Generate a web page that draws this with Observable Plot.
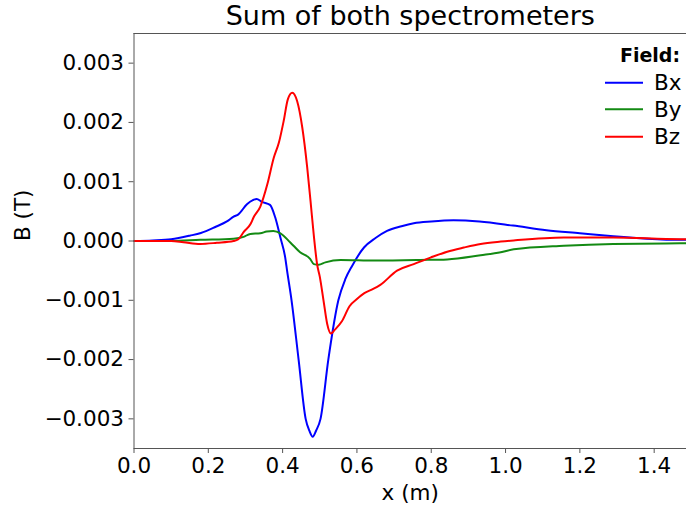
<!DOCTYPE html>
<html>
<head>
<meta charset="utf-8">
<script src="https://cdn.jsdelivr.net/npm/d3@7"></script>
<script src="https://cdn.jsdelivr.net/npm/@observablehq/plot@0.6"></script>
<style>
  html, body { margin: 0; padding: 0; background: white; }
  #chart { width: 686px; height: 508px; }
</style>
</head>
<body>
<div id="chart"></div>
<script>
// ---- data ----
const titleText = "Sum of both spectrometers";
const xLabel = "x (m)";
const yLabel = "B (T)";
const legendTitle = "Field:";
const seriesNames = ["Bx", "By", "Bz"];
const seriesColors = ["#0000ff", "#138a13", "#ff0000"];

const bxX = [0, 0.05, 0.10, 0.15, 0.18, 0.22, 0.25, 0.268, 0.281, 0.304, 0.32, 0.33, 0.344, 0.366, 0.38, 0.394, 0.407, 0.412, 0.424, 0.443, 0.462, 0.472, 0.481, 0.49, 0.502, 0.523, 0.55, 0.569, 0.587, 0.619, 0.65, 0.681, 0.72, 0.753, 0.80, 0.86, 0.93, 1.02, 1.11, 1.20, 1.29, 1.38, 1.47, 1.5];
const bxB = [0, 0.00001, 0.00003, 0.00009, 0.000135, 0.00024, 0.00033, 0.00041, 0.00045, 0.00062, 0.00069, 0.00071, 0.00066, 0.00061, 0.0004, 0.00006, -0.00028, -0.0005, -0.001, -0.002, -0.003, -0.0032, -0.0033, -0.0032, -0.003, -0.002, -0.001, -0.00064, -0.00042, -0.00011, 0.00005, 0.00017, 0.00025, 0.0003, 0.00033, 0.00035, 0.00033, 0.00026, 0.00018, 0.00013, 0.00008, 0.00004, 0.00002, 0.00002];

const byX = [0, 0.1, 0.178, 0.268, 0.295, 0.313, 0.34, 0.357, 0.375, 0.394, 0.42, 0.447, 0.474, 0.484, 0.497, 0.515, 0.556, 0.65, 0.771, 0.843, 0.933, 0.987, 1.022, 1.157, 1.29, 1.47, 1.5];
const byB = [0, 0, 0.00002, 0.00004, 0.00007, 0.00012, 0.00013, 0.00016, 0.00017, 0.00013, -0.00002, -0.00019, -0.0003, -0.00039, -0.0004, -0.00036, -0.00032, -0.00033, -0.00032, -0.00031, -0.00024, -0.00019, -0.00014, -0.00008, -0.00005, -0.00004, -0.00004];

const bzX = [0, 0.1, 0.133, 0.178, 0.223, 0.268, 0.281, 0.295, 0.314, 0.322, 0.34, 0.359, 0.376, 0.39, 0.403, 0.414, 0.426, 0.439, 0.453, 0.466, 0.475, 0.484, 0.493, 0.50, 0.51, 0.52, 0.53, 0.54, 0.56, 0.58, 0.60, 0.62, 0.64, 0.663, 0.708, 0.753, 0.798, 0.843, 0.888, 0.933, 0.987, 1.022, 1.157, 1.29, 1.47, 1.5];
const bzB = [0, 0, -0.00002, -0.00005, -0.00003, 0.0, 0.00003, 0.00015, 0.00029, 0.0004, 0.00058, 0.00096, 0.0014, 0.00166, 0.00203, 0.00239, 0.0025, 0.00236, 0.00191, 0.00125, 0.00068, 0.00009, -0.0004, -0.0006, -0.001, -0.0014, -0.00156, -0.0015, -0.00135, -0.0011, -0.00098, -0.00088, -0.00082, -0.00074, -0.0005, -0.00039, -0.00028, -0.00018, -0.00011, -0.00005, -0.00001, 0.00001, 0.00006, 0.00006, 0.00003, 0.00003];

const xTicks = [0.0, 0.2, 0.4, 0.6, 0.8, 1.0, 1.2, 1.4];
const xTickLabels = ["0.0", "0.2", "0.4", "0.6", "0.8", "1.0", "1.2", "1.4"];
const yTicks = [-0.003, -0.002, -0.001, 0, 0.001, 0.002, 0.003];
const yTickLabels = ["\u22120.003", "\u22120.002", "\u22120.001", "0.000", "0.001", "0.002", "0.003"];
const xDomain = [0, 1.487];
const yDomain = [-0.0035, 0.0035];

// ---- build ----
const toRows = (xs, bs, name) => xs.map((x, i) => ({x, b: bs[i], name}));
const rows = [
  ...toRows(bxX, bxB, "Bx"),
  ...toRows(byX, byB, "By"),
  ...toRows(bzX, bzB, "Bz")
];

const font = "'DejaVu Sans', sans-serif";
const spine = "#555";

const plot = Plot.plot({
  width: 686,
  height: 508,
  marginLeft: 133.5,
  marginRight: 0,
  marginTop: 33,
  marginBottom: 60,
  style: {fontFamily: font, fontSize: "21.5px", background: "white", color: "black", overflow: "visible"},
  x: {domain: xDomain},
  y: {domain: yDomain},
  color: {domain: seriesNames, range: seriesColors},
  marks: [
    Plot.line(rows, {x: "x", y: "b", z: "name", stroke: "name", strokeWidth: 2, curve: "monotone-x", clip: true}),
    Plot.ruleX([xDomain[0]], {stroke: spine, strokeWidth: 1}),
    Plot.ruleY(yDomain, {stroke: spine, strokeWidth: 1}),
    Plot.axisX({ticks: xTicks, tickFormat: d => xTickLabels[xTicks.indexOf(d)], tickSize: 5, tickPadding: 4, stroke: spine, label: null, fontSize: 21.5}),
    Plot.axisY({ticks: yTicks, tickFormat: d => yTickLabels[yTicks.indexOf(d)], tickSize: 5, tickPadding: 5, stroke: spine, label: null, fontSize: 21.5}),
    Plot.text([xLabel], {frameAnchor: "bottom", dy: 45, fontSize: 21.5, lineAnchor: "middle"}),
    Plot.text([yLabel], {frameAnchor: "left", dx: -111, rotate: -90, fontSize: 21.5, lineAnchor: "middle"}),
    Plot.text([titleText], {frameAnchor: "top", dy: -17, fontSize: 27, lineAnchor: "middle"})
  ]
});

document.getElementById("chart").appendChild(plot);

// ---- legend (inside the SVG) ----
const svg = d3.select(plot);
const lg = svg.append("g").attr("font-family", font);
lg.append("text")
  .attr("x", 680).attr("y", 55)
  .attr("text-anchor", "end").attr("dominant-baseline", "central")
  .attr("font-weight", "bold").attr("font-size", 19)
  .text(legendTitle);
const entryY = [82.7, 109.3, 136.7];
seriesNames.forEach((name, i) => {
  lg.append("line")
    .attr("x1", 605).attr("x2", 643)
    .attr("y1", entryY[i]).attr("y2", entryY[i])
    .attr("stroke", seriesColors[i]).attr("stroke-width", 2);
  lg.append("text")
    .attr("x", 654).attr("y", entryY[i])
    .attr("text-anchor", "start")
    .attr("dominant-baseline", "central")
    .attr("font-size", 21.5)
    .text(name);
});
</script>
</body>
</html>
